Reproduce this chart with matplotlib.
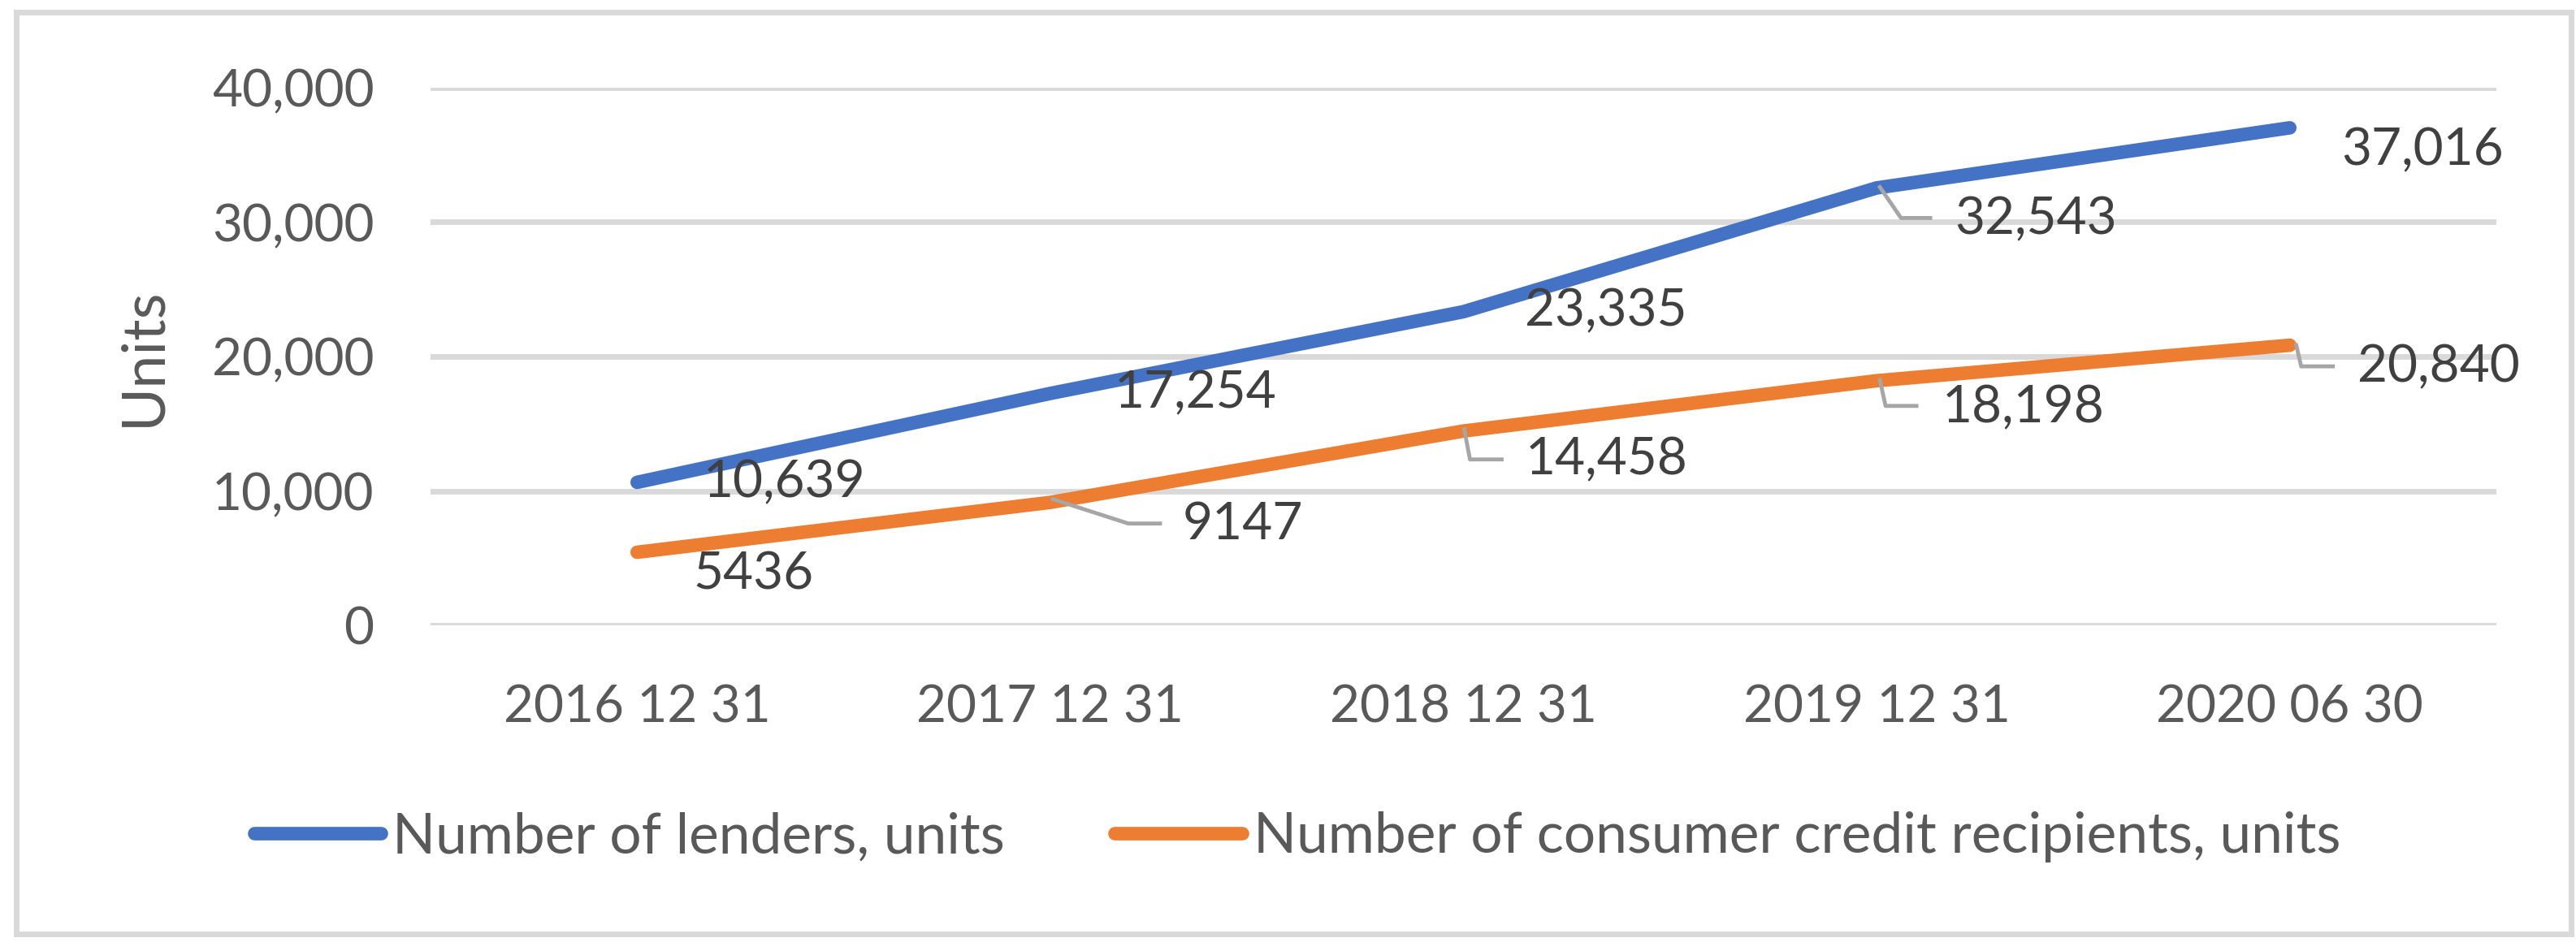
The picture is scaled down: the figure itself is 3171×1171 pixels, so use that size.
import matplotlib
matplotlib.use('Agg')
import matplotlib.pyplot as plt
from matplotlib.patches import Rectangle
from matplotlib.ticker import FuncFormatter
from matplotlib.transforms import Affine2D

dates = ['2016 12 31', '2017 12 31', '2018 12 31', '2019 12 31', '2020 06 30']
lenders = [10639, 17254, 23335, 32543, 37016]
recipients = [5436, 9147, 14458, 18198, 20840]
lender_name = 'Number of lenders, units'
recipient_name = 'Number of consumer credit recipients, units'
yticks = [0, 10000, 20000, 30000, 40000]

# label placement relative to the point, in pixels (dx right, dy down), plus optional leader
lender_offsets = [(81, 0, None), (79, 0, None), (76, 0, None),
                  (96, 39, [(4, -1), (30, 37), (66, 37)]), (64, 28, None)]
recipient_offsets = [(69, 27, None), (163, 27, [(3, -4), (96, 26), (135, 26)]),
                     (76, 36, [(1, -2), (8, 35), (47, 35)]),
                     (81, 33, [(4, -1), (11, 31), (49, 31)]),
                     (83, 27, [(8, 0), (14, 26), (53, 26)])]

BLUE = '#4472C4'
ORANGE = '#ED7D31'
GRID = '#D9D9D9'
TICK = '#595959'
LABEL = '#404040'

plt.rcParams['font.family'] = ['Lato', 'DejaVu Sans']
FS = 46

W, H = 3171, 1171
fig = plt.figure(figsize=(W / 100, H / 100), dpi=100)
ax = fig.add_axes([530 / W, 1 - 770 / H, (3073 - 530) / W, (770 - 108) / H])

x = list(range(len(dates)))
ax.plot(x, lenders, color=BLUE, lw=12, solid_capstyle='round', solid_joinstyle='round',
        label=lender_name, zorder=3)
ax.plot(x, recipients, color=ORANGE, lw=12, solid_capstyle='round', solid_joinstyle='round',
        label=recipient_name, zorder=3)

ax.set_xlim(-0.5, len(dates) - 0.5)
ax.set_ylim(0, 40000)
ax.set_yticks(yticks)
ax.yaxis.set_major_formatter(FuncFormatter(lambda v, p: f'{int(v):,}'))
ax.set_xticks(x)
ax.set_xticklabels(dates)
ax.grid(axis='y', color=GRID, lw=5, zorder=0)
ax.set_axisbelow(True)
for s in ax.spines.values():
    s.set_visible(False)
ax.tick_params(axis='both', length=0, labelsize=FS, labelcolor=TICK)
ax.tick_params(axis='y', pad=50)
ax.tick_params(axis='x', pad=52)

ax.set_ylabel('Units', fontsize=53, color=TICK, va='center')
ax.yaxis.set_label_coords(-0.139, 0.5)


def fmt(v):
    return f'{v:,}' if v >= 10000 else str(v)


def add_labels(values, offsets):
    for i, (v, (dx, dy, leader)) in enumerate(zip(values, offsets)):
        ax.annotate(fmt(v), (i, v), xytext=(dx, -dy), textcoords='offset pixels',
                    ha='left', va='center', fontsize=FS, color=LABEL, zorder=5)
        if leader:
            px, py = ax.transData.transform((i, v))
            lx = [p[0] for p in leader]
            ly = [-p[1] for p in leader]
            ax.plot(lx, ly, color='#A6A6A6', lw=3.5, zorder=4,
                    transform=Affine2D().translate(px, py), clip_on=False)


add_labels(lenders, lender_offsets)
add_labels(recipients, recipient_offsets)

leg = fig.legend(loc='center', bbox_to_anchor=(1597 / W, 1 - 1031 / H), ncol=2,
                 frameon=False, fontsize=50, handlelength=2.25, handletextpad=0.2,
                 columnspacing=1.95)
for t in leg.get_texts():
    t.set_color(TICK)

fig.patches.append(Rectangle((20 / W, 1 - 1150 / H), (3165 - 20) / W, (1150 - 15) / H,
                             transform=fig.transFigure, fill=False, ec=GRID, lw=5))

plt.savefig('out.png', dpi=100)
